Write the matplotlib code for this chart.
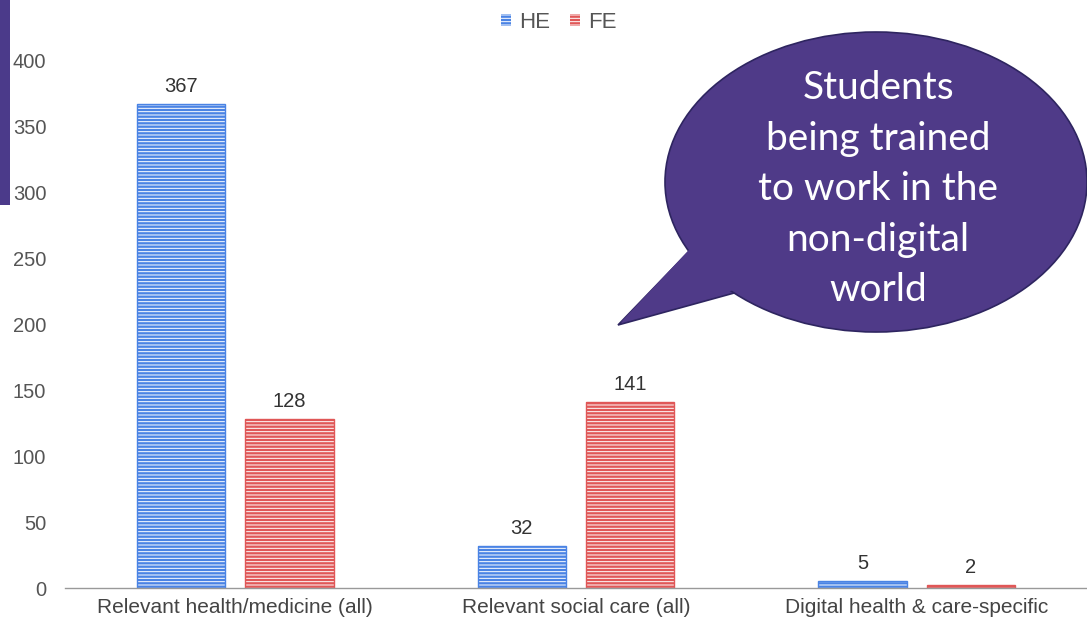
import matplotlib
matplotlib.use("Agg")
import matplotlib.pyplot as plt
import numpy as np
from matplotlib.patches import Ellipse, Polygon, Rectangle

categories = ["Relevant health/medicine (all)", "Relevant social care (all)", "Digital health & care-specific"]
series_names = ["HE", "FE"]
he_values = [367, 32, 5]
fe_values = [128, 141, 2]
yticks = [0, 50, 100, 150, 200, 250, 300, 350, 400]
bubble_text = "Students\nbeing trained\nto work in the\nnon-digital\nworld"

plt.rcParams['font.family'] = ['Liberation Sans', 'DejaVu Sans']
plt.rcParams['hatch.linewidth'] = 0.7

W, H = 1087, 623
fig = plt.figure(figsize=(W / 100, H / 100), dpi=100)
ax = fig.add_axes([65 / W, 35 / H, 1022 / W, 527 / H])

blue = '#4a83e4'
red = '#e05757'
x = np.arange(len(categories))
off = 0.159
bw = 0.26
hatch = '-----'

b1 = ax.bar(x - off, he_values, bw, color=blue, edgecolor='white', linewidth=0, hatch=hatch, label=series_names[0])
b2 = ax.bar(x + off, fe_values, bw, color=red, edgecolor='white', linewidth=0, hatch=hatch, label=series_names[1])
ax.bar(x - off, he_values, bw, fill=False, edgecolor=blue, linewidth=1)
ax.bar(x + off, fe_values, bw, fill=False, edgecolor=red, linewidth=1)

ax.bar_label(b1, padding=6, fontsize=14.5, color='#333333')
ax.bar_label(b2, padding=6, fontsize=14.5, color='#333333')

ax.set_xlim(-0.5, 2.5)
ax.set_ylim(0, 400)
ax.set_yticks(yticks)
ax.set_xticks(x)
ax.set_xticklabels(categories, fontsize=15, color='#444444')
ax.tick_params(axis='y', length=0, pad=13.5, labelsize=14.5, labelcolor='#555555')
ax.tick_params(axis='x', length=0, pad=7)
for s in ['top', 'right', 'left']:
    ax.spines[s].set_visible(False)
ax.spines['bottom'].set_color('#999999')
ax.spines['bottom'].set_linewidth(1)

leg = fig.legend(handles=[b1, b2], labels=series_names, loc='center', bbox_to_anchor=(559 / W, 1 - 22 / H),
                 ncol=2, frameon=False, fontsize=16, handlelength=0.45, handleheight=0.45,
                 handletextpad=0.35, columnspacing=0.9)
for t in leg.get_texts():
    t.set_color('#555555')

# purple side bar
fig.patches.append(Rectangle((0, 1 - 205 / H), 10 / W, 205 / H, transform=fig.transFigure,
                             facecolor='#4b3a8a', edgecolor='none', zorder=5))

def fx(px):
    return px / W

def fy(py):
    return 1 - py / H

purple = '#4f3a88'
edge = '#2e2560'
ell = Ellipse((fx(876), fy(182)), 422 / W, 300 / H, transform=fig.transFigure,
              facecolor=purple, edgecolor=edge, linewidth=1.2, zorder=10)
tail = Polygon([(fx(700), fy(240)), (fx(618), fy(325)), (fx(745), fy(290))], closed=True,
               transform=fig.transFigure, facecolor=purple, edgecolor=edge, linewidth=1.2, zorder=9)
tail_fill = Polygon([(fx(702), fy(236)), (fx(621), fy(322)), (fx(748), fy(286)), (fx(760), fy(250))], closed=True,
                    transform=fig.transFigure, facecolor=purple, edgecolor='none', zorder=11)
fig.patches.extend([tail, ell, tail_fill])
fig.text(fx(878), fy(189), bubble_text, ha='center', va='center', color='white',
         fontsize=28, family=['Lato', 'DejaVu Sans'], linespacing=1.5, zorder=12)

fig.savefig('out.png', dpi=100)
